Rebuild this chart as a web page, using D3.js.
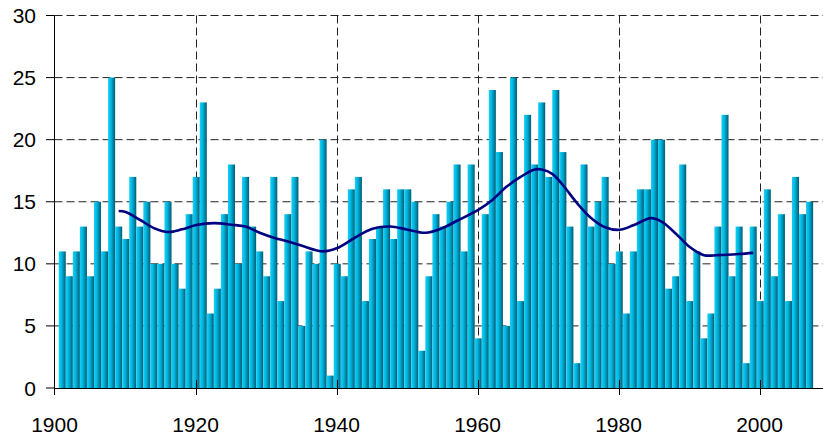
<!DOCTYPE html>
<html>
<head>
<meta charset="utf-8">
<script src="https://cdn.jsdelivr.net/npm/d3@7"></script>
<style>
  body { margin: 0; background: #fff; }
  svg { display: block; font-family: "Liberation Sans", Arial, sans-serif; }
</style>
</head>
<body>
<div id="chart"></div>
<script>
// Yearly counts, 1901-2007
const firstYear = 1901;
const counts = [
  11, 9, 11, 13, 9, 15, 11, 25, 13, 12,
  17, 13, 15, 10, 10, 15, 10, 8, 14, 17,
  23, 6, 8, 14, 18, 10, 17, 13, 11, 9,
  17, 7, 14, 17, 5, 11, 10, 20, 1, 10,
  9, 16, 17, 7, 12, 13, 16, 12, 16, 16,
  15, 3, 9, 14, 13, 15, 18, 11, 18, 4,
  14, 24, 19, 5, 25, 7, 22, 18, 23, 17,
  24, 19, 13, 2, 18, 13, 15, 17, 10, 11,
  6, 11, 16, 16, 20, 20, 8, 9, 18, 7,
  11, 4, 6, 13, 22, 9, 13, 2, 13, 7,
  16, 9, 14, 7, 17, 14, 15
];
const years = counts.map((d, i) => firstYear + i);

// Smoothed curve
const smoothYears = [1909, 1910, 1912, 1914, 1916, 1918, 1920, 1922.5, 1925, 1927, 1929, 1931,
  1933, 1935, 1938, 1940, 1942.5, 1945, 1947.5, 1950, 1952.5, 1955, 1957, 1960, 1962, 1964,
  1966, 1968, 1969, 1970.5, 1972, 1974, 1976, 1978, 1980, 1982, 1984.5, 1986, 1988, 1990,
  1992, 1994, 1997, 1999];
const smoothValues = [14.25, 14.17, 13.55, 12.88, 12.56, 12.78, 13.12, 13.28, 13.15, 13.0, 12.5, 12.1,
  11.8, 11.45, 11.0, 11.27, 12.1, 12.82, 13.01, 12.75, 12.5, 12.9, 13.47, 14.35, 15.15, 16.2,
  17.0, 17.6, 17.6, 17.25, 16.35, 14.9, 13.7, 12.95, 12.74, 13.1, 13.68, 13.4, 12.45, 11.35,
  10.7, 10.7, 10.79, 10.88];

const xTicks = [1900, 1920, 1940, 1960, 1980, 2000];
const yTicks = [0, 5, 10, 15, 20, 25, 30];

const width = 823;
const height = 435;
const margin = { top: 15.5, right: 0, bottom: 47, left: 54.5 };

const svg = d3.select("#chart")
  .append("svg")
  .attr("width", width)
  .attr("height", height);

const x = d3.scaleLinear()
  .domain([1900, 2009])
  .range([margin.left, width - margin.right]);

const y = d3.scaleLinear()
  .domain([0, 30])
  .range([height - margin.bottom, margin.top]);

// Bar gradient: bright cyan on the left, dark teal on the right
const grad = svg.append("defs")
  .append("linearGradient")
  .attr("id", "barGrad")
  .attr("x1", "0%").attr("x2", "100%")
  .attr("y1", "0%").attr("y2", "0%");
grad.append("stop").attr("offset", "0%").attr("stop-color", "#14d0f8");
grad.append("stop").attr("offset", "40%").attr("stop-color", "#00b6de");
grad.append("stop").attr("offset", "100%").attr("stop-color", "#005a74");

// Dashed grid
svg.append("g")
  .selectAll("line")
  .data(yTicks.slice(1))
  .enter()
  .append("line")
  .attr("x1", margin.left)
  .attr("x2", width)
  .attr("y1", d => y(d))
  .attr("y2", d => y(d))
  .attr("stroke", "#222")
  .attr("stroke-width", 1)
  .attr("stroke-dasharray", "8,4");

svg.append("g")
  .selectAll("line")
  .data(xTicks.slice(1))
  .enter()
  .append("line")
  .attr("x1", d => Math.round(x(d)) + 0.5)
  .attr("x2", d => Math.round(x(d)) + 0.5)
  .attr("y1", y(30))
  .attr("y2", y(0))
  .attr("stroke", "#222")
  .attr("stroke-width", 1)
  .attr("stroke-dasharray", "8,4");

// Bars
svg.append("g")
  .selectAll("rect")
  .data(years)
  .enter()
  .append("rect")
  .attr("x", d => x(d - 0.4))
  .attr("width", x(1) - x(0))
  .attr("y", (d, i) => y(counts[i]))
  .attr("height", (d, i) => y(0) - y(counts[i]))
  .attr("fill", "url(#barGrad)");

// Smoothed line
const line = d3.line()
  .x((d, i) => x(smoothYears[i] + 0.1))
  .y(d => y(d))
  .curve(d3.curveCatmullRom.alpha(0.5));

svg.append("path")
  .datum(smoothValues)
  .attr("d", line)
  .attr("fill", "none")
  .attr("stroke", "#000080")
  .attr("stroke-width", 2.6)
  .attr("stroke-linejoin", "round");

// Axes
const axes = svg.append("g").attr("stroke", "#000").attr("stroke-width", 1);

axes.append("line")
  .attr("x1", margin.left).attr("x2", margin.left)
  .attr("y1", y(30)).attr("y2", y(0) + 7);

axes.append("line")
  .attr("x1", margin.left).attr("x2", width)
  .attr("y1", Math.round(y(0)) + 0.5).attr("y2", Math.round(y(0)) + 0.5);

axes.selectAll("line.ytick")
  .data(yTicks)
  .enter()
  .append("line")
  .attr("class", "ytick")
  .attr("x1", margin.left - 8.5)
  .attr("x2", margin.left)
  .attr("y1", d => y(d))
  .attr("y2", d => y(d));

axes.selectAll("line.xtick")
  .data(xTicks.slice(1))
  .enter()
  .append("line")
  .attr("class", "xtick")
  .attr("x1", d => Math.round(x(d)) + 0.5)
  .attr("x2", d => Math.round(x(d)) + 0.5)
  .attr("y1", y(0) - 8)
  .attr("y2", y(0) + 7);

// Tick labels
svg.append("g")
  .selectAll("text")
  .data(yTicks)
  .enter()
  .append("text")
  .attr("x", 36)
  .attr("y", d => y(d))
  .attr("dy", "0.36em")
  .attr("text-anchor", "end")
  .style("font-size", "21px")
  .text(d => d);

svg.append("g")
  .selectAll("text")
  .data(xTicks)
  .enter()
  .append("text")
  .attr("x", d => x(d))
  .attr("y", 431.5)
  .attr("text-anchor", "middle")
  .style("font-size", "21px")
  .text(d => d);
</script>
</body>
</html>
